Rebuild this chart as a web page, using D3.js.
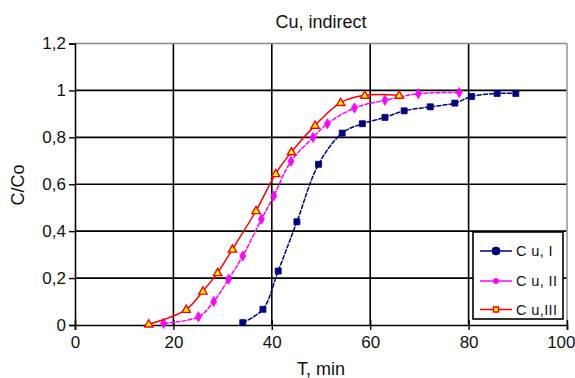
<!DOCTYPE html>
<html><head><meta charset="utf-8">
<script src="https://cdn.jsdelivr.net/npm/d3@7"></script>
<style>body{margin:0;background:#fff;} svg{display:block;font-family:"Liberation Sans",Arial,sans-serif;}</style>
</head><body>
<script>
const xTicks = [0, 20, 40, 60, 80, 100];
const yTicks = [0, 0.2, 0.4, 0.6, 0.8, 1, 1.2];
const yTickLabels = ["0", "0,2", "0,4", "0,6", "0,8", "1", "1,2"];

const seriesNames = ["C u, I", "C u, II", "C u,III"];
const x1 = [34.1, 38.2, 41.3, 45.1, 49.5, 54.3, 58.4, 63.0, 66.9, 72.2, 77.2, 80.6, 85.8, 89.6];
const y1 = [0.01, 0.067, 0.23, 0.44, 0.685, 0.818, 0.858, 0.885, 0.913, 0.93, 0.946, 0.974, 0.987, 0.987];
const x2 = [18.0, 25.1, 28.2, 31.2, 34.1, 37.9, 40.4, 43.9, 48.4, 51.3, 56.8, 63.0, 69.8, 78.1];
const y2 = [0.007, 0.035, 0.1, 0.195, 0.294, 0.451, 0.55, 0.698, 0.8, 0.858, 0.925, 0.958, 0.986, 0.991];
const x3 = [15.0, 22.6, 26.0, 29.0, 32.0, 36.8, 40.8, 44.0, 48.8, 54.0, 58.9, 65.9];
const y3 = [0.004, 0.066, 0.144, 0.223, 0.323, 0.487, 0.645, 0.738, 0.851, 0.948, 0.979, 0.979];

const W = 575, H = 378;
const m = {left: 75, right: 567, top: 43.5, bottom: 325};
const svg = d3.select("body").append("svg").attr("width", W).attr("height", H);
const x = d3.scaleLinear().domain([0, 100]).range([m.left, m.right]);
const y = d3.scaleLinear().domain([0, 1.2]).range([m.bottom, m.top]);

// grid
svg.append("g").selectAll("line").data(yTicks.filter(d => d > 0 && d < 1.2)).join("line")
  .attr("x1", m.left).attr("x2", m.right).attr("y1", d => y(d)).attr("y2", d => y(d))
  .attr("stroke", "#000").attr("stroke-width", 1.6);
svg.append("g").selectAll("line").data(xTicks.filter(d => d > 0 && d < 100)).join("line")
  .attr("y1", m.top).attr("y2", m.bottom).attr("x1", d => x(d)).attr("x2", d => x(d))
  .attr("stroke", "#000").attr("stroke-width", 1.6);
// top & right border (gray)
svg.append("line").attr("x1", m.left).attr("x2", m.right).attr("y1", y(1.2)).attr("y2", y(1.2))
  .attr("stroke", "#888").attr("stroke-width", 1.6);
svg.append("line").attr("x1", x(100)).attr("x2", x(100)).attr("y1", m.top).attr("y2", m.bottom)
  .attr("stroke", "#999").attr("stroke-width", 1.6);

// axes
const yAxis = d3.axisLeft(y).tickValues(yTicks).tickFormat((d, i) => yTickLabels[i]).tickSize(6).tickPadding(3);
const gy = svg.append("g").attr("transform", `translate(${m.left},0)`).call(yAxis);
const xAxis = d3.axisBottom(x).tickValues(xTicks).tickFormat(d3.format("d")).tickSize(5).tickPadding(6);
const gx = svg.append("g").attr("transform", `translate(0,${m.bottom})`).call(xAxis);
gx.selectAll(".tick line").attr("y1", -5);
[gx, gy].forEach(g => {
  g.select(".domain").attr("stroke", "#000").attr("stroke-width", 1.6);
  g.selectAll(".tick line").attr("stroke", "#000").attr("stroke-width", 1.4);
  g.selectAll(".tick text").attr("fill", "#111").attr("font-size", 17);
});
gx.selectAll(".tick text").filter(d => d === 100).attr("text-anchor", "end").attr("dx", 8);

// titles
svg.append("text").attr("x", 321).attr("y", 28).attr("text-anchor", "middle")
  .attr("font-size", 18).attr("fill", "#111").text("Cu, indirect");
svg.append("text").attr("x", 321).attr("y", 375).attr("text-anchor", "middle")
  .attr("font-size", 18).attr("fill", "#111").text("T, min");
svg.append("text").attr("transform", "translate(24,185) rotate(-90)").attr("text-anchor", "middle")
  .attr("font-size", 18).attr("fill", "#111").text("C/Co");

const series = [
  {xs: x1, ys: y1, color: "#000080", dash: "5,1", marker: "square"},
  {xs: x2, ys: y2, color: "#ff00ff", dash: "5,1", marker: "diamond"},
  {xs: x3, ys: y3, color: "#ff0000", dash: null, marker: "triangle"}
];
const line = d3.line().x(d => x(d[0])).y(d => y(d[1])).curve(d3.curveCatmullRom.alpha(0.5));
const sym = {square: d3.symbolSquare, diamond: d3.symbolDiamond, triangle: d3.symbolTriangle};
series.forEach(s => {
  const pts = s.xs.map((v, i) => [v, s.ys[i]]);
  svg.append("path").datum(pts).attr("d", line).attr("fill", "none")
    .attr("stroke", s.color).attr("stroke-width", 1.5).attr("stroke-dasharray", s.dash);
  const size = s.marker === "triangle" ? 30 : (s.marker === "diamond" ? 30 : 36);
  svg.append("g").selectAll("path").data(pts).join("path")
    .attr("transform", d => `translate(${x(d[0])},${y(d[1]) + (s.marker === "triangle" ? 0.5 : 0)})`)
    .attr("d", d3.symbol().type(sym[s.marker]).size(size))
    .attr("fill", s.marker === "triangle" ? "#ffff00" : s.color)
    .attr("stroke", s.color).attr("stroke-width", s.marker === "triangle" ? 1.4 : 0.8);
});

// legend
const lg = svg.append("g");
lg.append("rect").attr("x", 473).attr("y", 232).attr("width", 90).attr("height", 87)
  .attr("fill", "#fff").attr("stroke", "#000").attr("stroke-width", 1.6);
const ly = [251, 281, 309.5];
const legMarks = [
  {t: d3.symbolCircle, s: 50, fill: "#000080", stroke: "#000080", sw: 1},
  {t: d3.symbolCircle, s: 20, fill: "#ff00ff", stroke: "#ff00ff", sw: 1},
  {t: d3.symbolSquare, s: 26, fill: "#ffff00", stroke: "#ff0000", sw: 1.4}
];
series.forEach((s, i) => {
  lg.append("line").attr("x1", 480).attr("x2", 512).attr("y1", ly[i]).attr("y2", ly[i])
    .attr("stroke", s.color).attr("stroke-width", 1.5);
  lg.append("path").attr("transform", `translate(496,${ly[i]})`)
    .attr("d", d3.symbol().type(legMarks[i].t).size(legMarks[i].s))
    .attr("fill", legMarks[i].fill).attr("stroke", legMarks[i].stroke).attr("stroke-width", legMarks[i].sw);
  lg.append("text").attr("x", 516).attr("y", ly[i] + 5).attr("font-size", 14.5).attr("fill", "#111")
    .attr("letter-spacing", 0.4).text(seriesNames[i]);
});
</script>
</body></html>
